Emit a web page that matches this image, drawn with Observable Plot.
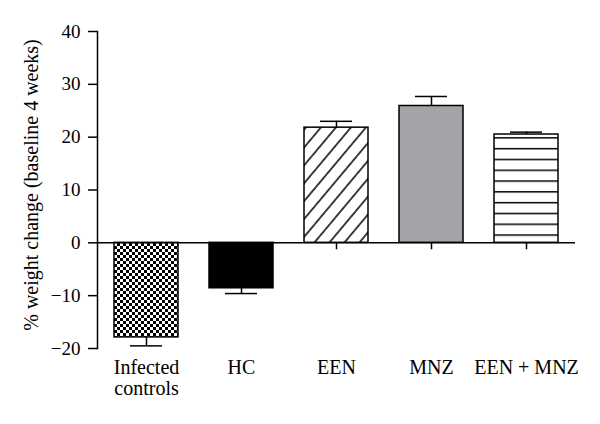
<!DOCTYPE html>
<html>
<head>
<meta charset="utf-8">
<script src="https://cdn.jsdelivr.net/npm/d3@7"></script>
<script src="https://cdn.jsdelivr.net/npm/@observablehq/plot@0.6"></script>
<style>
  html, body { margin: 0; padding: 0; background: #ffffff; }
  #chart { width: 600px; height: 424px; }
</style>
</head>
<body>
<div id="chart"></div>
<script>
// ---- data ----
const groups = ["Infected controls", "HC", "EEN", "MNZ", "EEN + MNZ"];
const xLabels = ["Infected\ncontrols", "HC", "EEN", "MNZ", "EEN + MNZ"];
const means = [-17.9, -8.6, 21.8, 25.9, 20.5];
const sems = [1.6, 1.0, 1.2, 1.8, 0.45];
const yTicks = [-20, -10, 0, 10, 20, 30, 40];
const yTitle = "% weight change (baseline 4 weeks)";

// ---- styles (kept apart from the data) ----
const fillFor = {
  "Infected controls": "url(#pat-checker)",
  "HC": "#000000",
  "EEN": "url(#pat-diag)",
  "MNZ": "#a3a3a8",
  "EEN + MNZ": "url(#pat-horiz)"
};

const rows = groups.map((g, i) => ({
  group: g,
  label: xLabels[i],
  value: means[i],
  tip: means[i] + Math.sign(means[i]) * sems[i]
}));

const font = "'Liberation Serif', 'Times New Roman', serif";

const marks = [
  Plot.frame({anchor: "left", stroke: "black", strokeWidth: 1.5}),
  Plot.axisY({ticks: yTicks, tickSize: 9, tickPadding: 8, fontSize: 19, strokeWidth: 1.5, label: null, tickFormat: d => d < 0 ? "\u2212" + Math.abs(d) : String(d)}),
  Plot.ruleX(groups, {x: d => d, y1: () => 0, y2: () => 0, insetBottom: -7, stroke: "black", strokeWidth: 1.5}),
  Plot.barY(rows, {x: "group", y: "value", fill: d => fillFor[d.group], stroke: "black", strokeWidth: 1.5}),
  Plot.ruleX(rows, {x: "group", y1: "value", y2: "tip", stroke: "black", strokeWidth: 1.5}),
  Plot.tickY(rows, {x: "group", y: "tip", insetLeft: 16, insetRight: 16, stroke: "black", strokeWidth: 1.5}),
  Plot.ruleY([0], {stroke: "black", strokeWidth: 1.5}),
  Plot.text(rows, {x: "group", text: "label", frameAnchor: "bottom", lineAnchor: "top", dy: 11, fontSize: 20, lineHeight: 1.03, fill: "black"}),
  Plot.text([yTitle], {frameAnchor: "left", rotate: -90, dx: -66, dy: -5, textAnchor: "middle", lineAnchor: "middle", fontSize: 20, fill: "black"})
];

const chart = Plot.plot({
  width: 600,
  height: 424,
  marginLeft: 97,
  marginRight: 25,
  marginTop: 31,
  marginBottom: 76,
  style: {fontFamily: font, fontSize: "18px", color: "black", background: "white"},
  x: {domain: groups, paddingInner: 0.33, paddingOuter: 0.165, axis: null},
  y: {domain: [-20, 40], axis: null},
  color: {type: "identity"},
  marks
});

// pattern definitions used by the bar fills
const svg = d3.select(chart.tagName.toLowerCase() === "svg" ? chart : chart.querySelector("svg"));
const defs = svg.insert("defs", ":first-child");

const checker = defs.append("pattern").attr("id", "pat-checker")
  .attr("patternUnits", "userSpaceOnUse").attr("width", 6).attr("height", 6);
checker.append("rect").attr("width", 6).attr("height", 6).attr("fill", "white");
checker.append("rect").attr("x", 0).attr("y", 0).attr("width", 3).attr("height", 3).attr("fill", "black");
checker.append("rect").attr("x", 3).attr("y", 3).attr("width", 3).attr("height", 3).attr("fill", "black");

const diag = defs.append("pattern").attr("id", "pat-diag")
  .attr("patternUnits", "userSpaceOnUse").attr("width", 11.5).attr("height", 11.5)
  .attr("patternTransform", "rotate(40)");
diag.append("rect").attr("width", 11.5).attr("height", 11.5).attr("fill", "white");
diag.append("line").attr("x1", 5.75).attr("x2", 5.75).attr("y1", 0).attr("y2", 11.5)
  .attr("stroke", "black").attr("stroke-width", 1.5);

const horiz = defs.append("pattern").attr("id", "pat-horiz")
  .attr("patternUnits", "userSpaceOnUse").attr("width", 10).attr("height", 10.8)
  .attr("y", 7.5);
horiz.append("rect").attr("width", 10).attr("height", 10.8).attr("fill", "white");
horiz.append("line").attr("x1", 0).attr("x2", 10).attr("y1", 0.75).attr("y2", 0.75)
  .attr("stroke", "black").attr("stroke-width", 1.5);

document.getElementById("chart").appendChild(chart);
</script>
</body>
</html>
